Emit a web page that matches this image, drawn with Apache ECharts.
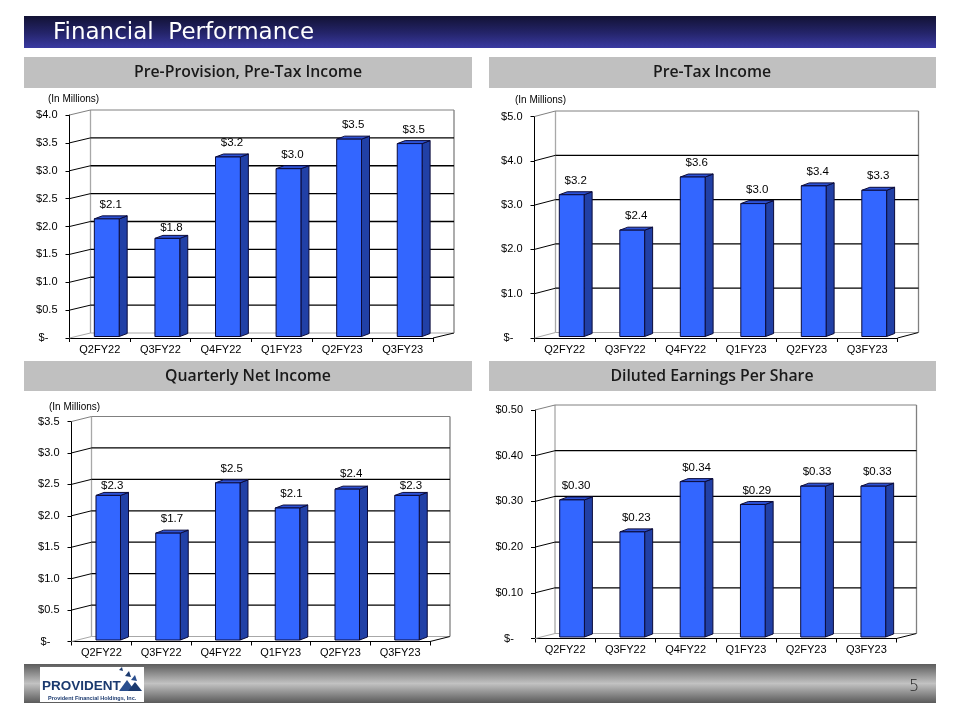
<!DOCTYPE html>
<html><head><meta charset="utf-8">
<script src="https://cdn.jsdelivr.net/npm/echarts@6/dist/echarts.min.js"></script>
<style>html,body{margin:0;padding:0;background:#fff}#c{width:960px;height:720px}</style>
</head><body><div id="c"></div><script>
// ---- data ----
const categories = ['Q2FY22','Q3FY22','Q4FY22','Q1FY23','Q2FY23','Q3FY23'];
const prePreTaxIncome = [2.11, 1.76, 3.22, 3.01, 3.54, 3.46];
const preTaxIncome = [3.2, 2.4, 3.6, 3.0, 3.4, 3.3];
const netIncome = [2.3, 1.7, 2.5, 2.1, 2.4, 2.3];
const dilutedEPS = [0.30, 0.23, 0.34, 0.29, 0.33, 0.33];
const ticksPrePre = [0, 0.5, 1.0, 1.5, 2.0, 2.5, 3.0, 3.5, 4.0];
const ticksPreTax = [0, 1.0, 2.0, 3.0, 4.0, 5.0];
const ticksNet = [0, 0.5, 1.0, 1.5, 2.0, 2.5, 3.0, 3.5];
const ticksEPS = [0, 0.10, 0.20, 0.30, 0.40, 0.50];
const sectionTitles = ['Pre-Provision, Pre-Tax Income','Pre-Tax Income','Quarterly Net Income','Diluted Earnings Per Share'];

// ---- layout ----
const panels = [
  {values: prePreTaxIncome, ticks: ticksPrePre, dec: 1, grid: {left: 69.5, top: 115, width: 363.5, height: 223}, dx: 21, dy: -5},
  {values: preTaxIncome, ticks: ticksPreTax, dec: 1, grid: {left: 534.5, top: 116.5, width: 363, height: 221.5}, dx: 21, dy: -5.5},
  {values: netIncome, ticks: ticksNet, dec: 1, grid: {left: 71.5, top: 421.5, width: 358.5, height: 220}, dx: 20, dy: -5},
  {values: dilutedEPS, ticks: ticksEPS, dec: 2, grid: {left: 535, top: 410, width: 361.5, height: 228.5}, dx: 20, dy: -5}
];

function fmt(v, dec) { return v === 0 ? '$-   ' : '$' + v.toFixed(dec); }

function wallItem(p) {
  const max = p.ticks[p.ticks.length - 1];
  return function (params, api) {
    const cs = params.coordSys;
    const v = api.value(1);
    const y = api.coord([0, v])[1];
    const xl = cs.x, xr = cs.x + cs.width, dx = p.dx, dy = p.dy;
    const isTop = v === max, isBottom = v === 0;
    const col = isTop ? '#808080' : (isBottom ? '#a8a8a8' : '#000');
    const children = [
      {type: 'line', shape: {x1: xl, y1: y, x2: xl + dx, y2: y + dy}, style: {stroke: col, lineWidth: 1}},
      {type: 'line', shape: {x1: xl + dx, y1: y + dy, x2: xr + dx, y2: y + dy}, style: {stroke: col, lineWidth: isTop || isBottom ? 1 : 1.3}}
    ];
    if (isBottom) {
      const yTop = api.coord([0, max])[1];
      children.push({type: 'line', shape: {x1: xr, y1: y, x2: xr + dx, y2: y + dy}, style: {stroke: '#000', lineWidth: 1}});
      children.push({type: 'line', shape: {x1: xl + dx, y1: y + dy, x2: xl + dx, y2: yTop + dy}, style: {stroke: '#a8a8a8', lineWidth: 1.3}});
      children.push({type: 'line', shape: {x1: xr + dx, y1: y + dy, x2: xr + dx, y2: yTop + dy}, style: {stroke: '#808080', lineWidth: 1.3}});
    }
    return {type: 'group', children: children};
  };
}

function barItem(p) {
  return function (params, api) {
    const i = api.value(0), v = api.value(1);
    const b = api.coord([i, 0]), t = api.coord([i, v]);
    const bw = api.size([1, 0])[0];
    const w = bw * 0.41, cx = b[0] + bw * 0.115;
    const x0 = cx - w / 2, x1 = cx + w / 2, yb = b[1] - 1.5, yt = t[1] - 1.5, d = 8, e = -3;
    const edge = '#0b0b3a';
    // label: keep clear of the back-wall gridlines
    let ly = yt - 14;
    p.ticks.forEach(function (tk) {
      const gy = api.coord([0, tk])[1] + p.dy;
      if (Math.abs(ly - gy) < 5) {
        const below = gy + 6;
        ly = (below + 4 <= yt - 4) ? below : gy - 6;
      }
    });
    return {type: 'group', children: [
      {type: 'polygon', shape: {points: [[x1, yb], [x1 + d, yb + e], [x1 + d, yt + e], [x1, yt]]}, style: {fill: '#2140a6', stroke: edge, lineWidth: 1}},
      {type: 'polygon', shape: {points: [[x0, yt], [x0 + d, yt + e], [x1 + d, yt + e], [x1, yt]]}, style: {fill: '#2d52d6', stroke: edge, lineWidth: 1}},
      {type: 'rect', shape: {x: x0, y: yt, width: w, height: yb - yt}, style: {fill: '#3366ff', stroke: edge, lineWidth: 1}},
      {type: 'text', style: {text: fmt(v, p.dec), x: (x0 + x1 + d) / 2, y: ly, align: 'center', verticalAlign: 'middle', fontSize: 11.5, fontFamily: 'Liberation Sans', fill: '#000'}}
    ]};
  };
}

const grids = [], xAxes = [], yAxes = [], series = [];
panels.forEach(function (p, k) {
  grids.push(Object.assign({containLabel: false}, p.grid));
  xAxes.push({
    type: 'category', gridIndex: k, data: categories, boundaryGap: true,
    axisLine: {lineStyle: {color: '#000', width: 1}},
    axisTick: {show: true, length: 4, lineStyle: {color: '#000'}},
    axisLabel: {color: '#000', fontFamily: 'Liberation Sans', fontSize: 11, margin: 6, interval: 0},
    splitLine: {show: false}
  });
  yAxes.push({
    type: 'value', gridIndex: k, min: p.ticks[0], max: p.ticks[p.ticks.length - 1],
    interval: p.ticks[1] - p.ticks[0],
    axisLine: {show: true, lineStyle: {color: '#000', width: 1}},
    axisTick: {show: true, length: 4, lineStyle: {color: '#000'}},
    axisLabel: {color: '#000', fontFamily: 'Liberation Sans', fontSize: 11, margin: 12, formatter: function (v) { return fmt(v, p.dec); }},
    splitLine: {show: false}
  });
  series.push({
    type: 'custom', xAxisIndex: k, yAxisIndex: k, silent: true, clip: false, z: 1,
    data: p.ticks.map(function (t) { return [0, t]; }),
    renderItem: wallItem(p)
  });
  series.push({
    type: 'custom', xAxisIndex: k, yAxisIndex: k, silent: true, clip: false, z: 3,
    data: p.values.map(function (v, i) { return [i, v]; }),
    renderItem: barItem(p)
  });
});

const headStyle = {align: 'center', verticalAlign: 'middle', fontSize: 15.8, fontWeight: 600, fontFamily: 'Open Sans', fill: '#1a1a1a'};
const graphics = [
  {type: 'rect', shape: {x: 24, y: 16, width: 912, height: 32}, style: {fill: new echarts.graphic.LinearGradient(0, 0, 0, 1, [{offset: 0, color: '#121234'}, {offset: 0.55, color: '#25256c'}, {offset: 1, color: '#3a3aa2'}])}},
  {type: 'text', style: {text: 'Financial  Performance', x: 53, y: 33, verticalAlign: 'middle', fontSize: 23, fontFamily: 'DejaVu Sans', fill: '#fff'}},
  {type: 'rect', shape: {x: 24, y: 57, width: 448, height: 31}, style: {fill: '#c0c0c0'}},
  {type: 'rect', shape: {x: 489, y: 57, width: 447, height: 31}, style: {fill: '#c0c0c0'}},
  {type: 'rect', shape: {x: 24, y: 361, width: 448, height: 30}, style: {fill: '#c0c0c0'}},
  {type: 'rect', shape: {x: 489, y: 361, width: 447, height: 30}, style: {fill: '#c0c0c0'}},
  {type: 'text', style: Object.assign({text: sectionTitles[0], x: 248, y: 72}, headStyle)},
  {type: 'text', style: Object.assign({text: sectionTitles[1], x: 712, y: 72}, headStyle)},
  {type: 'text', style: Object.assign({text: sectionTitles[2], x: 248, y: 376}, headStyle)},
  {type: 'text', style: Object.assign({text: sectionTitles[3], x: 712, y: 376}, headStyle)},
  {type: 'text', style: {text: '(In Millions)', x: 48, y: 99, verticalAlign: 'middle', fontSize: 10, fontFamily: 'Liberation Sans', fill: '#000'}},
  {type: 'text', style: {text: '(In Millions)', x: 515, y: 100, verticalAlign: 'middle', fontSize: 10, fontFamily: 'Liberation Sans', fill: '#000'}},
  {type: 'text', style: {text: '(In Millions)', x: 49, y: 407, verticalAlign: 'middle', fontSize: 10, fontFamily: 'Liberation Sans', fill: '#000'}},
  {type: 'rect', shape: {x: 24, y: 664, width: 912, height: 39}, style: {fill: new echarts.graphic.LinearGradient(0, 0, 0, 1, [{offset: 0, color: '#5c5c5c'}, {offset: 0.5, color: '#c2c2c2'}, {offset: 1, color: '#5a5a5a'}])}},
  {type: 'rect', shape: {x: 40, y: 667, width: 104, height: 35}, style: {fill: '#fff'}},
  {type: 'text', style: {text: 'PROVIDENT', x: 42, y: 686, verticalAlign: 'middle', fontSize: 13.5, fontWeight: 'bold', fontFamily: 'Liberation Sans', fill: '#1b3a6f'}},
  {type: 'polygon', shape: {points: [[119, 691], [127, 680], [135, 691]]}, style: {fill: '#2a4f8f'}},
  {type: 'polygon', shape: {points: [[128, 691], [135, 682], [142, 691]]}, style: {fill: '#1b3a6f'}},
  {type: 'polygon', shape: {points: [[125, 676], [129, 671], [131, 677]]}, style: {fill: '#1b3a6f'}},
  {type: 'polygon', shape: {points: [[131, 680], [135, 675], [137, 681]]}, style: {fill: '#2a4f8f'}},
  {type: 'polygon', shape: {points: [[119, 670], [122, 667], [123, 671]]}, style: {fill: '#1b3a6f'}},
  {type: 'text', style: {text: 'Provident Financial Holdings, Inc.', x: 48, y: 698, verticalAlign: 'middle', fontSize: 5.5, fontWeight: 'bold', fontFamily: 'Liberation Sans', fill: '#1b3a6f'}},
  {type: 'text', style: {text: '5', x: 914, y: 687, align: 'center', verticalAlign: 'middle', fontSize: 16, fontFamily: 'DejaVu Sans', fontWeight: 300, fill: '#222'}}
];

const chart = echarts.init(document.getElementById('c'), null, {renderer: 'canvas'});
chart.setOption({
  animation: false,
  backgroundColor: '#fff',
  grid: grids, xAxis: xAxes, yAxis: yAxes, series: series,
  graphic: graphics
});
</script></body></html>
